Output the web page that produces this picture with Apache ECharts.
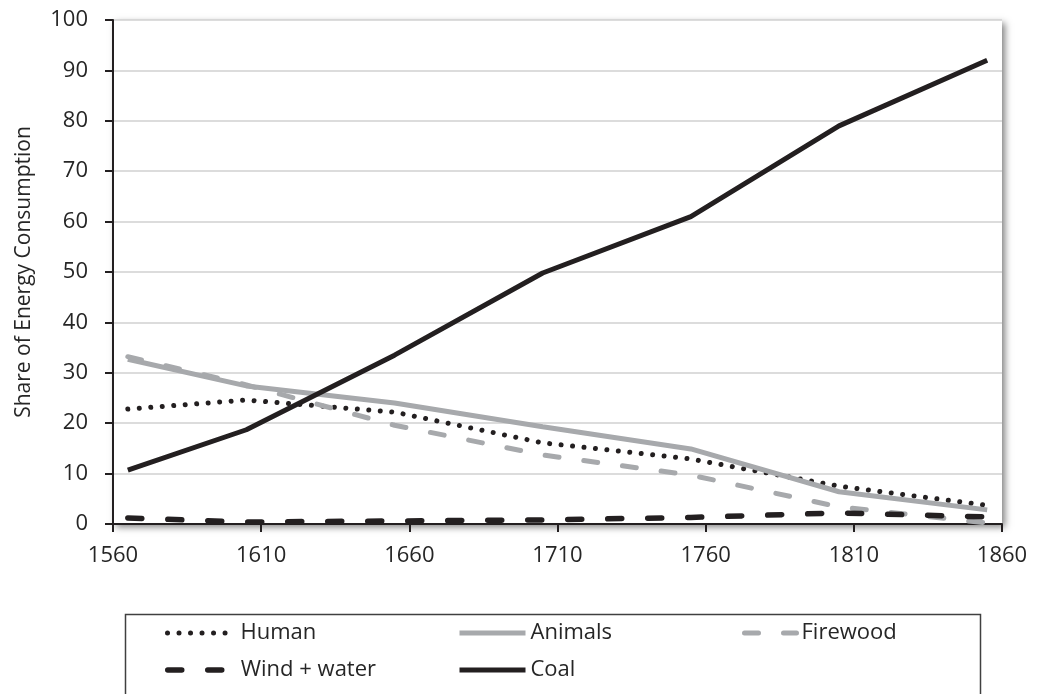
<!DOCTYPE html>
<html>
<head>
<meta charset="utf-8">
<script src="https://cdn.jsdelivr.net/npm/echarts@6/dist/echarts.min.js"></script>
<style>
  html, body { margin: 0; padding: 0; background: #fff; }
  #chart { width: 1039px; height: 694px; }
</style>
</head>
<body>
<div id="chart"></div>
<script>
// years (decade midpoints) and shares
var years = [1565, 1605, 1655, 1705, 1755, 1805, 1855];
var human = [22.8, 24.6, 22.2, 16.1, 12.9, 7.5, 3.7];
var animals = [32.7, 27.4, 24.0, 19.3, 14.9, 6.4, 2.8];
var firewood = [33.2, 27.6, 19.6, 13.7, 9.7, 3.4, 0.2];
var windWater = [1.2, 0.4, 0.6, 0.8, 1.3, 2.2, 1.4];
var coal = [10.7, 18.7, 33.5, 49.8, 61.0, 79.0, 92.0];

var FONT = '"Open Sans", sans-serif';
var TXT = '#262626';
var BLACK = '#231f20';
var GREY = '#a7a9ac';

var styles = {
    'Human':        { color: BLACK, width: 5,   type: [0.01, 11.5], cap: 'round' },
    'Animals':      { color: GREY,  width: 5,   type: 'solid', cap: 'butt' },
    'Firewood':     { color: GREY,  width: 5,   type: [14, 25], cap: 'round' },
    'Wind + water': { color: BLACK, width: 5.5, type: [14, 26], cap: 'round' },
    'Coal':         { color: BLACK, width: 5,   type: 'solid', cap: 'butt' }
};

function pairs(vals) {
    return vals.map(function (v, i) { return [years[i], v]; });
}

// one legend box per entry so the columns sit like the original
function legendAt(name, left, top, width) {
    var s = styles[name];
    return {
        data: [name],
        left: left,
        top: top,
        itemWidth: width,
        itemHeight: 14,
        itemGap: 0,
        selectedMode: false,
        itemStyle: { opacity: 0 },
        lineStyle: { color: s.color, width: s.width, type: s.type, cap: s.cap },
        textStyle: { fontFamily: FONT, fontSize: 22, color: TXT }
    };
}

function lineSeries(name, vals) {
    var s = styles[name];
    return {
        name: name, type: 'line', data: pairs(vals),
        symbol: 'none',
        lineStyle: { color: s.color, width: s.width, type: s.type, cap: s.cap },
        itemStyle: { color: s.color }
    };
}

var chart = echarts.init(document.getElementById('chart'), null, { renderer: 'canvas' });

chart.setOption({
    animation: false,
    backgroundColor: '#fff',
    grid: {
        left: 113, right: 37, top: 20, bottom: 170,
        show: true,
        borderWidth: 0,
        backgroundColor: '#fff',
        shadowColor: 'rgba(0,0,0,0.5)',
        shadowBlur: 7,
        shadowOffsetX: 3,
        shadowOffsetY: 3
    },
    xAxis: {
        type: 'value',
        min: 1560, max: 1860, interval: 50,
        axisLine: { lineStyle: { color: BLACK, width: 2 } },
        axisTick: { show: true, length: 8, lineStyle: { color: BLACK, width: 2 } },
        axisLabel: {
            margin: 21, fontFamily: FONT, fontSize: 22, color: TXT,
            formatter: function (v) { return String(v); }
        },
        splitLine: { show: false }
    },
    yAxis: {
        type: 'value',
        min: 0, max: 100, interval: 10,
        name: 'Share of Energy Consumption',
        nameLocation: 'middle',
        nameGap: 78,
        nameTextStyle: { fontFamily: FONT, fontSize: 21, color: TXT },
        axisLine: { show: true, lineStyle: { color: BLACK, width: 2 } },
        axisTick: { show: true, length: 8, lineStyle: { color: BLACK, width: 2 } },
        axisLabel: { margin: 25, fontFamily: FONT, fontSize: 22, color: TXT },
        splitLine: { show: true, lineStyle: { color: '#d0d0d0', width: 1.5 } }
    },
    legend: [
        legendAt('Human', 160, 617, 68),
        legendAt('Animals', 452, 617, 66),
        legendAt('Firewood', 737, 617, 52),
        legendAt('Wind + water', 160, 654, 68),
        legendAt('Coal', 452, 654, 66)
    ],
    graphic: [{
        type: 'rect',
        left: 123, top: 612,
        shape: { width: 855, height: 100 },
        style: { fill: 'none', stroke: '#404040', lineWidth: 1.5 },
        z: -1
    }],
    series: [
        lineSeries('Human', human),
        lineSeries('Animals', animals),
        lineSeries('Firewood', firewood),
        lineSeries('Wind + water', windWater),
        lineSeries('Coal', coal)
    ]
});
</script>
</body>
</html>
